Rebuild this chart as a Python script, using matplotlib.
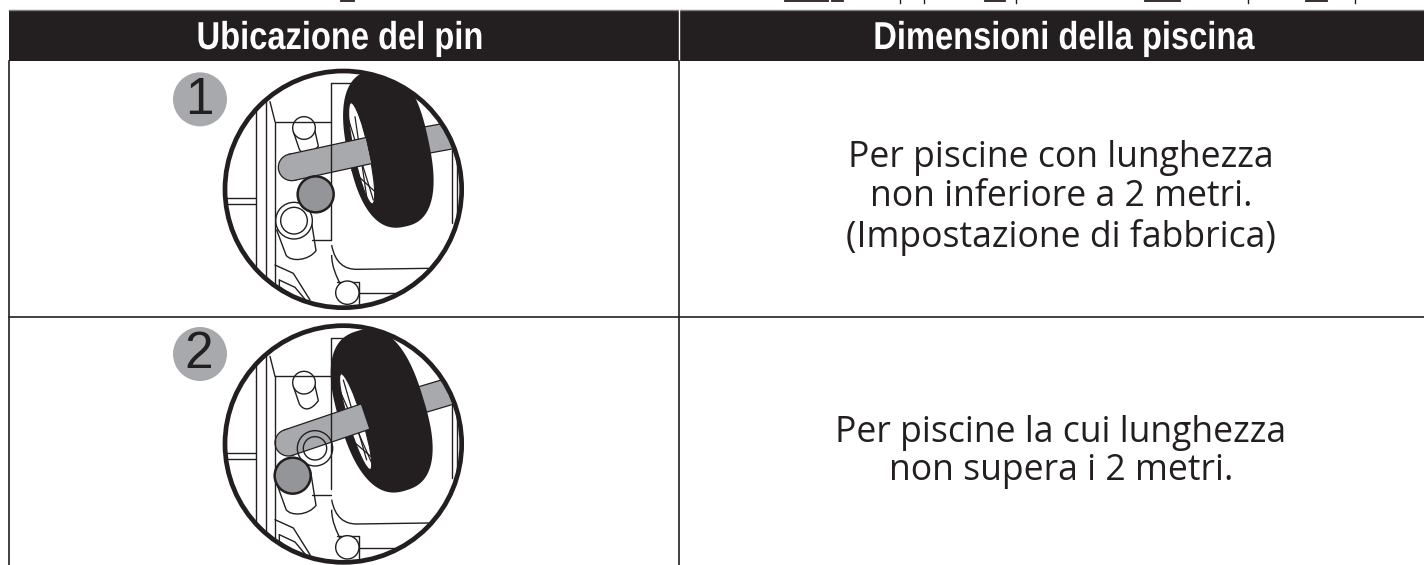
import matplotlib

matplotlib.use("Agg")
import matplotlib.pyplot as plt
import numpy as np
from matplotlib.patches import Circle, Ellipse, PathPatch, Polygon
from matplotlib.path import Path
from matplotlib.patheffects import AbstractPathEffect
from matplotlib.transforms import Affine2D

WIDTH = 1424
HEIGHT = 565
DARK = "#231f20"
ARM_GREY = "#a7a9ac"
PIN_GREY = "#939598"

HEADERS = ["Ubicazione del pin", "Dimensioni della piscina"]
PIN_LABELS = ["1", "2"]
ROW_TEXTS = [
    "Per piscine con lunghezza\nnon inferiore a 2 metri.\n(Impostazione di fabbrica)",
    "Per piscine la cui lunghezza\nnon supera i 2 metri.",
]
ROW_TEXT_Y = [198, 452]
DETAIL_Y0 = [60, 320]
DETAIL_CENTER_Y = [388, 372]


class Condense(AbstractPathEffect):
    # squeeze a text horizontally around its centre, no narrow font is installed
    def __init__(self, cx, sx):
        super().__init__()
        self.cx = cx
        self.sx = sx

    def draw_path(self, renderer, gc, tpath, affine, rgbFace=None):
        squeeze = Affine2D().translate(-self.cx, 0).scale(self.sx, 1).translate(self.cx, 0)
        renderer.draw_path(gc, tpath, affine + squeeze, rgbFace)


def lines(ax, tf, clip, segments, lw=1.0, color=DARK, z=3):
    for seg in segments:
        xs, ys = zip(*seg)
        ln, = ax.plot(xs, ys, color=color, lw=lw, transform=tf, solid_capstyle="round", zorder=z)
        ln.set_clip_path(clip)


def curve(ax, tf, clip, pts, lw=1.0):
    codes = [Path.MOVETO] + [Path.CURVE4] * (len(pts) - 1)
    p = PathPatch(Path(pts, codes), fc="none", ec=DARK, lw=lw, transform=tf, zorder=3)
    add(ax, clip, p)


def add(ax, clip, patch, z=3):
    patch.set_zorder(z)
    ax.add_patch(patch)
    patch.set_clip_path(clip)


def wheel(ax, tf, clip, cx, cy, w, h, angle, n=2.5):
    t = np.linspace(0, 2 * np.pi, 160)
    x = w / 2 * np.sign(np.cos(t)) * np.abs(np.cos(t)) ** (2 / n)
    y = h / 2 * np.sign(np.sin(t)) * np.abs(np.sin(t)) ** (2 / n)
    a = np.radians(angle)
    pts = np.column_stack([cx + x * np.cos(a) - y * np.sin(a), cy + x * np.sin(a) + y * np.cos(a)])
    add(ax, clip, Polygon(pts, fc=DARK, ec="none", transform=tf), z=2)


def post(ax, tf, clip, left_top, left_bot, right_bot, right_top, z=2.5):
    # cylinder body: straight sides with a rounded foot
    lx, ly = left_bot
    rx, ry = right_bot
    verts = [left_top, left_bot, (lx + 14, ly + 22), (rx - 22, ry + 30), right_bot, right_top, left_top]
    codes = [Path.MOVETO, Path.LINETO, Path.CURVE4, Path.CURVE4, Path.CURVE4, Path.LINETO, Path.CLOSEPOLY]
    add(ax, clip, PathPatch(Path(verts, codes), fc="white", ec=DARK, lw=1, transform=tf), z=z)


def arm_piece(ax, tf, clip, start, end, width, round_start, z):
    # dark outline first, grey body on top
    (x0, y0), (x1, y1) = start, end
    ang = np.arctan2(y1 - y0, x1 - x0)
    nx, ny = -np.sin(ang) * width / 2, np.cos(ang) * width / 2
    body = [(x0 + nx, y0 + ny), (x1 + nx, y1 + ny), (x1 - nx, y1 - ny), (x0 - nx, y0 - ny)]
    add(ax, clip, Polygon(body, fc=ARM_GREY, ec="none", transform=tf), z=z)
    lines(ax, tf, clip, [[body[0], body[1]], [body[3], body[2]]], lw=0.9, z=z + 0.1)
    if round_start:
        add(ax, clip, Circle(start, width / 2, fc=ARM_GREY, ec=DARK, lw=0.9, transform=tf), z=z - 0.05)


def draw_detail(ax, idx):
    y0 = DETAIL_Y0[idx]
    cy = DETAIL_CENTER_Y[idx]
    dy = cy - 388
    tf = Affine2D().scale(1 / 3).translate(180, y0) + ax.transData

    disc = Circle((490, cy), 355, fc="white", ec="none", transform=tf, zorder=1)
    ax.add_patch(disc)
    clip = disc

    # housing outlines
    lines(ax, tf, clip, [
        [(228, 150 + dy), (228, 630 + dy)],
        [(258, 120 + dy), (258, 670 + dy)],
        [(285, 185 + dy), (285, 670 + dy)],
        [(270, 125 + dy), (285, 185 + dy)],
        [(140, 415 + dy), (228, 415 + dy)],
        [(140, 432 + dy), (228, 432 + dy)],
        [(285, 185 + dy), (452, 185 + dy)],
        [(452, 70 + dy), (520, 70 + dy)],
        [(395, 540 + dy), (452, 540 + dy)],
        [(815, 270 + dy), (815, 490 + dy)],
        [(830, 260 + dy), (830, 490 + dy)],
        [(285, 615 + dy), (340, 640 + dy), (390, 720 + dy)],
        [(298, 660 + dy), (298, 680 + dy), (370, 730 + dy)],
        [(298, 660 + dy), (345, 682 + dy), (385, 730 + dy)],
        [(470, 665 + dy), (538, 665 + dy), (538, 750 + dy)],
        [(538, 700 + dy), (650, 700 + dy)],
    ])
    curve(ax, tf, clip, [(455, 555 + dy), (465, 610 + dy), (495, 628 + dy), (530, 628 + dy)])
    lines(ax, tf, clip, [[(530, 628 + dy), (745, 625 + dy)]])
    curve(ax, tf, clip, [(455, 585 + dy), (455, 620 + dy), (470, 650 + dy), (482, 675 + dy)])
    add(ax, clip, Circle((502, 698 + dy), 35, fc="white", ec=DARK, lw=1, transform=tf))

    # upper post
    post(ax, tf, clip, (340, 215 + dy), (358, 268 + dy), (415, 258 + dy), (403, 205 + dy))
    add(ax, clip, Circle((372, 204 + dy), 34, fc="white", ec=DARK, lw=1, transform=tf), z=2.6)

    # lower post
    if idx == 0:
        post(ax, tf, clip, (290, 510), (318, 585), (408, 572), (392, 470))
        add(ax, clip, Circle((342, 482), 55, fc="white", ec=DARK, lw=1, transform=tf), z=2.6)
        add(ax, clip, Circle((342, 482), 40, fc="white", ec=DARK, lw=1, transform=tf), z=2.7)
    else:
        post(ax, tf, clip, (290, 490), (318, 568), (408, 556), (392, 455))

    if idx == 0:
        arm_left, arm_mid, arm_right = (335, 322), (565, 272), (840, 222)
        wheel_geo = (625, 265, 245, 480, -12)
        slot = (545, 280, 45, 310, -12)
        spokes = [[(500, 160), (580, 420)], [(525, 170), (560, 410)], [(515, 330), (585, 395)]]
        pin = (407, 403)
    else:
        arm_left, arm_mid, arm_right = (325, 368), (555, 290), (840, 205)
        wheel_geo = (605, 272, 260, 500, -17)
        slot = (527, 305, 42, 300, -17)
        spokes = [[(470, 190), (580, 440)], [(490, 180), (560, 420)], [(515, 360), (585, 420)]]
        pin = (338, 467)

    # arm behind the wheel, wheel, slot with spokes, then arm in front
    arm_piece(ax, tf, clip, arm_mid, arm_right, 80, False, 1.8)
    wheel(ax, tf, clip, *wheel_geo)
    add(ax, clip, Ellipse(slot[:2], slot[2], slot[3], angle=slot[4], fc="white", ec=DARK, lw=0.8, transform=tf), z=2.2)
    lines(ax, tf, clip, spokes, lw=0.9, z=2.3)
    arm_piece(ax, tf, clip, arm_left, arm_mid, 80, True, 2.8)
    lines(ax, tf, clip, [[(452, 70 + dy), (452, 540 + dy - (18 if idx else 0))]], z=3.2)

    if idx == 1:
        add(ax, clip, Polygon([(352, 408), (445, 378), (445, 420), (400, 438), (365, 425)],
                              fc="white", ec="none", transform=tf), z=3.0)
        add(ax, clip, Circle((405, 385), 53, fc="none", ec=DARK, lw=1, transform=tf), z=3.1)
        add(ax, clip, Circle((405, 385), 35, fc="none", ec=DARK, lw=1, transform=tf), z=3.1)

    add(ax, clip, Circle(pin, 54, fc=PIN_GREY, ec=DARK, lw=1.8, transform=tf), z=3.5)

    ax.add_patch(Circle((490, cy), 355, fc="none", ec=DARK, lw=3.4, transform=tf, zorder=4))

    # numbered badge
    by = y0 + (118 if idx == 0 else 102) / 3
    ax.add_patch(Circle((200, by), 27, fc=ARM_GREY, ec="none", zorder=5))
    ax.text(199, by + 1, PIN_LABELS[idx], ha="center", va="center", fontsize=37,
            family="Liberation Sans", color=DARK, zorder=6)


def main():
    fig = plt.figure(figsize=(WIDTH / 100, HEIGHT / 100), dpi=100)
    ax = fig.add_axes([0, 0, 1, 1])
    ax.set_xlim(0, WIDTH)
    ax.set_ylim(HEIGHT, 0)
    ax.axis("off")

    # table frame
    ax.fill_between([9, WIDTH], 10, 61, color=DARK, lw=0, zorder=1)
    ax.plot([9, WIDTH], [9.5, 9.5], color="#808080", lw=1, zorder=2)
    ax.plot([679, 679], [10, 61], color="white", lw=1, zorder=2)
    ax.plot([9, 9], [61, HEIGHT], color=DARK, lw=1.2, zorder=2)
    ax.plot([679, 679], [61, HEIGHT], color=DARK, lw=1.2, zorder=2)
    ax.plot([9, WIDTH], [317, 317], color=DARK, lw=1.2, zorder=2)

    # clipped leftovers from the page above the table
    for x0, x1 in [(341, 354), (785, 828), (832, 843), (985, 1005), (1145, 1180), (1306, 1327)]:
        ax.plot([x0, x1], [0.8, 0.8], color=DARK, lw=1.3)
    for x in [900, 924, 1016, 1248, 1355]:
        ax.plot([x, x], [0, 3], color=DARK, lw=1)

    header_x = [340, 1064]
    for x, label in zip(header_x, HEADERS):
        t = ax.text(x, 49, label, ha="center", va="baseline", color="white", fontsize=28,
                    fontweight="bold", family="Liberation Sans", zorder=3)
        t.set_path_effects([Condense(x, 0.84)])

    for i in range(2):
        draw_detail(ax, i)
        ax.text(1061, ROW_TEXT_Y[i], ROW_TEXTS[i], ha="center", va="center", fontsize=25.6,
                family="Open Sans", color=DARK, linespacing=1.11, zorder=3)

    fig.savefig("out.png", dpi=100)
    plt.close(fig)


if __name__ == "__main__":
    main()
